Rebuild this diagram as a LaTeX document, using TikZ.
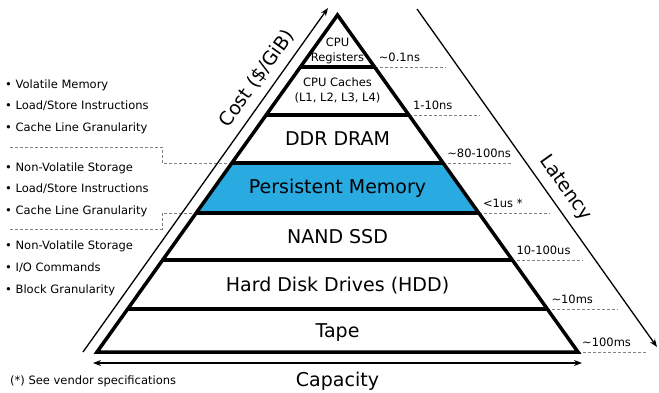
\documentclass[tikz,border=0pt]{standalone}
\usepackage{fontspec}
\setmainfont{DejaVu Sans}
\usetikzlibrary{arrows.meta,calc}
\definecolor{pmblue}{RGB}{41,170,225}
\definecolor{dgray}{RGB}{128,128,128}
\begin{document}
\begin{tikzpicture}[x=1pt,y=-1pt,
  small/.style={font=\fontsize{11.5}{15}\selectfont, inner sep=0pt},
  smallc/.style={small, text height=8.4pt, text depth=0pt},
  big/.style={font=\fontsize{19}{22}\selectfont, inner sep=0pt, text height=13.9pt, text depth=0pt},
  layerline/.style={line width=3.5pt},
  latdash/.style={dgray, dash pattern=on 3pt off 2pt, line width=0.9pt},
  tipst/.tip={Stealth[length=8pt,width=6pt]},
  axisarrow/.style={line width=1.3pt}]
\useasboundingbox (0,0) rectangle (659,392);
% pyramid geometry
\coordinate (apex) at (337.5,15);
\coordinate (bl) at (97,352);
\coordinate (br) at (578,352);
\coordinate (l1) at (300.4,67);  \coordinate (r1) at (374.6,67);
\coordinate (l2) at (266.1,115); \coordinate (r2) at (408.9,115);
\coordinate (l3) at (231.9,163); \coordinate (r3) at (443.1,163);
\coordinate (l4) at (196.2,213); \coordinate (r4) at (478.8,213);
\coordinate (l5) at (162.7,260); \coordinate (r5) at (512.3,260);
\coordinate (l6) at (127.7,309); \coordinate (r6) at (547.3,309);
% latency dashed ends
\coordinate (d1) at (445,67);
\coordinate (d2) at (480,115);
\coordinate (d3) at (513,163);
\coordinate (d4) at (550,213);
\coordinate (d5) at (583,260);
\coordinate (d6) at (618,309);
\coordinate (d7) at (648,352);
\draw[latdash] (r1) -- (d1);
\draw[latdash] (r2) -- (d2);
\draw[latdash] (r3) -- (d3);
\draw[latdash] (r4) -- (d4);
\draw[latdash] (r5) -- (d5);
\draw[latdash] (r6) -- (d6);
\draw[latdash] (br) -- (d7);
% left separators
\coordinate (s1a) at (10,147); \coordinate (s1b) at (162,147); \coordinate (s1c) at (162,163);
\coordinate (s2a) at (10,229); \coordinate (s2b) at (162,229); \coordinate (s2c) at (162,213);
\draw[latdash] (s1a) -- (s1b) -- (s1c) -- (l3);
\draw[latdash] (s2a) -- (s2b) -- (s2c) -- (l4);
% persistent memory fill
\fill[pmblue] (l3) -- (r3) -- (r4) -- (l4) -- cycle;
% pyramid outline and layers
\draw[layerline, line join=miter] (bl) -- (apex) -- (br) -- cycle;
\draw[layerline] (l1) -- (r1);
\draw[layerline] (l2) -- (r2);
\draw[layerline] (l3) -- (r3);
\draw[layerline] (l4) -- (r4);
\draw[layerline] (l5) -- (r5);
\draw[layerline] (l6) -- (r6);
% layer labels
\node[small, align=center] (reg) at (337.5,51) {CPU\\Registers};
\node[small, align=center] (cache) at (337.5,90) {CPU Caches\\(L1, L2, L3, L4)};
\node[big] (ddr) at (337.5,139) {DDR DRAM};
\node[big] (pm) at (337.5,187) {Persistent Memory};
\node[big] (ssd) at (337.5,236.5) {NAND SSD};
\node[big] (hdd) at (337.5,284.5) {Hard Disk Drives (HDD)};
\node[big] (tape) at (337.5,330.5) {Tape};
% latency labels
\node[smallc, anchor=west] (t1) at ($(r1)+(4,-10)$) {\textasciitilde0.1ns};
\node[smallc, anchor=west] (t2) at ($(r2)+(4,-10)$) {1-10ns};
\node[smallc, anchor=west] (t3) at ($(r3)+(4,-10)$) {\textasciitilde80-100ns};
\node[smallc, anchor=west] (t4) at ($(r4)+(4,-10)$) {<1us *};
\node[smallc, anchor=west] (t5) at ($(r5)+(4,-10)$) {10-100us};
\node[smallc, anchor=west] (t6) at ($(r6)+(4,-10)$) {\textasciitilde10ms};
\node[smallc, anchor=west] (t7) at ($(br)+(4,-10)$) {\textasciitilde100ms};
% left bullets
\node[smallc, anchor=west] (b1) at (5,84) {\textbullet\ Volatile Memory};
\node[smallc, anchor=west] (b2) at (5,105) {\textbullet\ Load/Store Instructions};
\node[smallc, anchor=west] (b3) at (5,127) {\textbullet\ Cache Line Granularity};
\node[smallc, anchor=west] (b4) at (5,167) {\textbullet\ Non-Volatile Storage};
\node[smallc, anchor=west] (b5) at (5,188) {\textbullet\ Load/Store Instructions};
\node[smallc, anchor=west] (b6) at (5,210) {\textbullet\ Cache Line Granularity};
\node[smallc, anchor=west] (b7) at (5,245) {\textbullet\ Non-Volatile Storage};
\node[smallc, anchor=west] (b8) at (5,267) {\textbullet\ I/O Commands};
\node[smallc, anchor=west] (b9) at (5,289) {\textbullet\ Block Granularity};
% axes
\coordinate (c0) at (83,352); \coordinate (c1) at (328,8);
\draw[axisarrow, -tipst] (c0) -- (c1);
\coordinate (lat0) at (417,9); \coordinate (lat1) at (657,347);
\draw[axisarrow, -tipst] (lat0) -- (lat1);
\coordinate (cap0) at (93,363); \coordinate (cap1) at (582,363);
\draw[axisarrow, tipst-tipst] (cap0) -- (cap1);
\node[big, rotate=54.5] (costlbl) at (256,78) {Cost (\$/GiB)};
\node[big, rotate=-54.5] (latlbl) at (567,187) {Latency};
\node[big] (caplbl) at (337.5,380) {Capacity};
\node[smallc, anchor=west] (foot) at (10,380) {(*) See vendor specifications};
\end{tikzpicture}
\end{document}
